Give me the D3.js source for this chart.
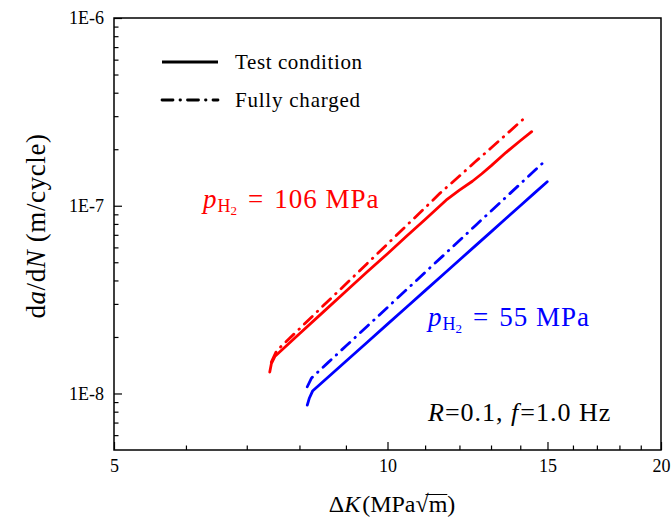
<!DOCTYPE html>
<html><head><meta charset="utf-8">
<script src="https://cdn.jsdelivr.net/npm/d3@7"></script>
<style>
body{margin:0;background:#fff}
svg{display:block}
text{font-family:"Liberation Serif","Times New Roman",serif;fill:#000}
</style>
</head><body>
<svg id="c" width="671" height="521"></svg>
<script>
// ---- data ----
const xTicks = [5, 10, 15, 20];
const xMinorTicks = [6, 7, 8, 9, 11, 12, 13, 14, 16, 17, 18, 19];
const yTicks = [1e-8, 1e-7, 1e-6];
const yTickLabels = ["1E-8", "1E-7", "1E-6"];
const yMinorTicks = [6e-9,7e-9,8e-9,9e-9,2e-8,3e-8,4e-8,5e-8,6e-8,7e-8,8e-8,9e-8,2e-7,3e-7,4e-7,5e-7,6e-7,7e-7,8e-7,9e-7];
const legendNames = ["Test condition", "Fully charged"];

// p_H2 = 106 MPa, test condition (solid red)
const r106TestK    = [7.42, 7.45, 7.52, 8.0, 8.5, 9.0, 9.5, 10.0, 10.5, 11.0, 11.6, 12.0, 12.4, 12.7, 13.0, 13.5, 14.0, 14.41];
const r106TestRate = [1.30e-8, 1.44e-8, 1.58e-8, 2.08e-8, 2.72e-8, 3.50e-8, 4.45e-8, 5.55e-8, 6.90e-8, 8.45e-8, 1.07e-7, 1.21e-7, 1.35e-7, 1.48e-7, 1.63e-7, 1.92e-7, 2.22e-7, 2.48e-7];
// p_H2 = 106 MPa, fully charged (dash-dot red)
const r106FullK    = [7.45, 7.55, 8.0, 8.5, 9.0, 9.5, 10.0, 10.5, 11.0, 11.42, 12.0, 12.5, 13.0, 13.5, 14.0, 14.19];
const r106FullRate = [1.47e-8, 1.69e-8, 2.21e-8, 2.94e-8, 3.83e-8, 4.93e-8, 6.26e-8, 7.86e-8, 9.76e-8, 1.164e-7, 1.44e-7, 1.72e-7, 2.03e-7, 2.39e-7, 2.80e-7, 2.96e-7];
// p_H2 = 55 MPa, test condition (solid blue)
const b55TestK    = [8.16, 8.20, 8.27, 8.6, 9.0, 9.5, 10.0, 10.5, 11.0, 11.5, 12.0, 12.5, 13.0, 13.5, 14.0, 14.5, 14.99];
const b55TestRate = [8.67e-9, 9.4e-9, 1.03e-8, 1.22e-8, 1.485e-8, 1.875e-8, 2.34e-8, 2.89e-8, 3.53e-8, 4.28e-8, 5.14e-8, 6.13e-8, 7.26e-8, 8.55e-8, 1.0e-7, 1.164e-7, 1.343e-7];
// p_H2 = 55 MPa, fully charged (dash-dot blue)
const b55FullK    = [8.16, 8.25, 8.6, 9.0, 9.5, 10.0, 10.5, 11.0, 11.5, 12.0, 12.5, 13.0, 13.5, 14.0, 14.5, 14.87];
const b55FullRate = [1.086e-8, 1.21e-8, 1.46e-8, 1.79e-8, 2.28e-8, 2.875e-8, 3.58e-8, 4.42e-8, 5.39e-8, 6.53e-8, 7.85e-8, 9.37e-8, 1.11e-7, 1.307e-7, 1.53e-7, 1.715e-7];

// ---- chart ----
const svg = d3.select("#c");
const L = 114, R = 661, T = 18, B = 450;
const x = d3.scaleLog().domain([5, 20]).range([L, R]);
const y = d3.scaleLog().domain([5e-9, 1e-6]).range([B, T]);

const zip = (ks, vs) => ks.map((k, i) => [k, vs[i]]);
const DD = "11,7,0.5,7";
const series = [
  {data: zip(r106TestK, r106TestRate), color: "#ff0000", dash: null},
  {data: zip(r106FullK, r106FullRate), color: "#ff0000", dash: DD},
  {data: zip(b55TestK, b55TestRate), color: "#0000ff", dash: null},
  {data: zip(b55FullK, b55FullRate), color: "#0000ff", dash: DD}
];
const line = d3.line().x(d => x(d[0])).y(d => y(d[1]));
svg.append("g").selectAll("path").data(series).join("path")
  .attr("d", d => line(d.data))
  .attr("fill", "none")
  .attr("stroke", d => d.color)
  .attr("stroke-width", 2.8)
  .attr("stroke-linecap", "round")
  .attr("stroke-linejoin", "round")
  .attr("stroke-dasharray", d => d.dash);

// axes
const gx = svg.append("g").attr("transform", `translate(0,${B})`)
  .call(d3.axisBottom(x).tickValues(xTicks).tickFormat(d3.format("d")).tickSizeInner(-8).tickSizeOuter(0).tickPadding(9));
const gxm = svg.append("g").attr("transform", `translate(0,${B})`)
  .call(d3.axisBottom(x).tickValues(xMinorTicks).tickFormat("").tickSizeInner(-4.5).tickSizeOuter(0));
const gy = svg.append("g").attr("transform", `translate(${L},0)`)
  .call(d3.axisLeft(y).tickValues(yTicks).tickFormat((d, i) => yTickLabels[i]).tickSizeInner(-8).tickSizeOuter(0).tickPadding(10));
const gym = svg.append("g").attr("transform", `translate(${L},0)`)
  .call(d3.axisLeft(y).tickValues(yMinorTicks).tickFormat("").tickSizeInner(-4.5).tickSizeOuter(0));
[gx, gxm, gy, gym].forEach(g => {
  g.select(".domain").remove();
  g.selectAll("line").attr("stroke", "#000").attr("stroke-width", 1.2);
  g.selectAll("text").attr("font-family", "Liberation Serif").attr("font-size", 18).attr("fill", "#000");
});
svg.append("rect").attr("x", L).attr("y", T).attr("width", R - L).attr("height", B - T)
  .attr("fill", "none").attr("stroke", "#000").attr("stroke-width", 1.5);

// legend
legendNames.forEach((n, i) => {
  const yy = 62 + i * 38;
  svg.append("line").attr("x1", 162).attr("x2", 218).attr("y1", yy).attr("y2", yy)
    .attr("stroke", "#000").attr("stroke-width", 2.8).attr("stroke-linecap", i ? "round" : "butt")
    .attr("stroke-dasharray", i ? DD : null);
  svg.append("text").attr("x", 235).attr("y", yy + 6.5).attr("font-size", 21)
    .attr("textLength", i ? 125 : 127).attr("lengthAdjust", "spacing").text(n);
});

// pressure labels
function pLabel(xp, yp, color, val) {
  const t = svg.append("text").attr("x", xp).attr("y", yp).attr("font-size", 27).style("fill", color);
  t.append("tspan").attr("font-style", "italic").text("p");
  t.append("tspan").attr("font-size", 18).attr("dx", 1).attr("dy", 4).text("H");
  t.append("tspan").attr("font-size", 13).attr("dy", 3).text("2");
  t.append("tspan").attr("dx", 11).attr("dy", -7).text("=");
  t.append("tspan").attr("dx", 11).attr("letter-spacing", 1).text(val + " MPa");
}
pLabel(203, 208, "#ff0000", "106");
pLabel(428, 326, "#0000ff", "55");

// condition label
const c = svg.append("text").attr("x", 428).attr("y", 421).attr("font-size", 26).attr("letter-spacing", 1);
c.append("tspan").attr("font-style", "italic").text("R");
c.append("tspan").text("=0.1, ");
c.append("tspan").attr("font-style", "italic").text("f");
c.append("tspan").attr("dx", 1).text("=1.0 Hz");

// axis titles
const yt = svg.append("text").attr("transform", "translate(45,226) rotate(-90)")
  .attr("text-anchor", "middle").attr("font-size", 27).attr("letter-spacing", 0.6);
yt.append("tspan").text("d");
yt.append("tspan").attr("font-style", "italic").text("a");
yt.append("tspan").text("/d");
yt.append("tspan").attr("font-style", "italic").text("N");
yt.append("tspan").text(" (m/cycle)");

const XB = 512;
const xt = svg.append("text").attr("x", 392).attr("y", XB).attr("text-anchor", "middle").attr("font-size", 24);
xt.append("tspan").text("Δ");
xt.append("tspan").attr("font-style", "italic").text("K");
xt.append("tspan").attr("dx", 2).text("(MPa√m)");
// overline for square root
const node = xt.node();
const full = node.textContent;
const mi = full.lastIndexOf("m");
const e0 = node.getEndPositionOfChar(mi);
const sq = node.getStartPositionOfChar(full.indexOf("√"));
svg.append("line").attr("x1", sq.x + 10).attr("x2", e0.x).attr("y1", XB - 17.5).attr("y2", XB - 17.5)
  .attr("stroke", "#000").attr("stroke-width", 1);
</script>
</body></html>
